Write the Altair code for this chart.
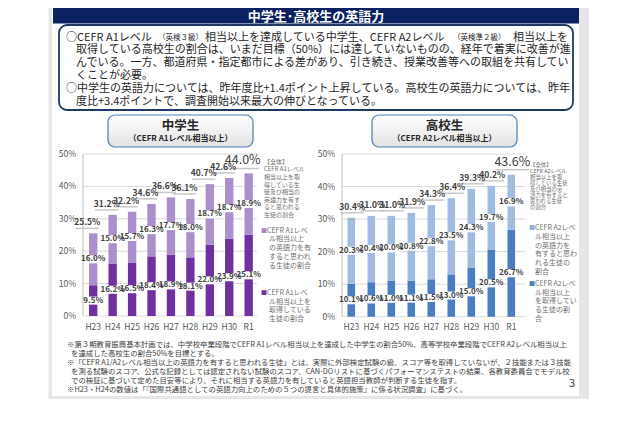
import altair as alt
import pandas as pd

FONT = "Noto Sans CJK JP"
OFF = 8  # page margin

# ---------------- data ----------------
years = ["H23", "H24", "H25", "H26", "H27", "H28", "H29", "H30", "R1"]
jh_achieved = [9.5, 16.2, 16.5, 18.4, 18.9, 18.1, 22.0, 23.9, 25.1]
jh_equiv = [16.0, 15.0, 15.7, 16.3, 17.7, 18.0, 18.7, 18.7, 18.9]
jh_total = [25.5, 31.2, 32.2, 34.6, 36.6, 36.1, 40.7, 42.6, 44.0]
hs_achieved = [10.1, 10.6, 11.0, 11.1, 11.5, 13.0, 15.0, 20.5, 26.7]
hs_equiv = [20.3, 20.4, 20.0, 20.8, 22.8, 23.5, 24.3, 19.7, 16.9]
hs_total = [30.4, 31.0, 31.0, 31.9, 34.3, 36.4, 39.3, 40.2, 43.6]
y_ticks = [0, 10, 20, 30, 40, 50]
y_tick_labels = ["0%", "10%", "20%", "30%", "40%", "50%"]

title = "中学生･高校生の英語力"
intro_line1 = ["○CEFR A1レベル", "（英検３級）", "相当以上を達成している中学生、CEFR A2レベル", "（英検準２級）", "相当以上を"]
intro_lines = [
    "取得している高校生の割合は、いまだ目標（50%）には達していないものの、経年で着実に改善が進",
    "んでいる。一方、都道府県・指定都市による差があり、引き続き、授業改善等への取組を共有してい",
    "くことが必要。",
    "○中学生の英語力については、昨年度比+1.4ポイント上昇している。高校生の英語力については、昨年",
    "度比+3.4ポイントで、調査開始以来最大の伸びとなっている。",
]
footnotes = [
    "※第３期教育振興基本計画では、中学校卒業段階でCEFR A1レベル相当以上を達成した中学生の割合50%、高等学校卒業段階でCEFR A2レベル相当以上",
    "を達成した高校生の割合50%を目標とする。",
    "※「CEFR A1/A2レベル相当以上の英語力を有すると思われる生徒」とは、実際に外部検定試験の級、スコア等を取得していないが、２技能または３技能",
    "を測る試験のスコア、公式な記録としては認定されない試験のスコア、CAN-DOリストに基づくパフォーマンステストの結果、各教育委員会でモデル校",
    "での検証に基づいて定めた目安等により、それに相当する英語力を有していると英語担当教師が判断する生徒を指す。",
    "※H23・H24の数値は「『国際共通語としての英語力向上のための５つの提言と具体的施策』に係る状況調査」に基づく。",
]
jh_title = ["中学生", "（CEFR A1レベル相当以上）"]
hs_title = ["高校生", "（CEFR A2レベル相当以上）"]
jh_leg1 = ["【全体】", "CEFR A1レベル", "相当以上を取", "得している生", "徒及び相当の", "英語力を有す", "ると思われる", "生徒の割合"]
jh_leg2 = ["CEFR A1レベ", "ル相当以上", "の英語力を有", "すると思われ", "る生徒の割合"]
jh_leg3 = ["CEFR A1レベ", "ル相当以上を", "取得している", "生徒の割合"]
hs_leg1 = ["【全体】", "CEFR A2レベル", "相当以上を取", "得している生徒", "及び相当の英", "語力を有すると", "思われる生徒", "の割合"]
hs_leg2 = ["CEFR A2レベ", "ル相当以上", "の英語力を", "有すると思わ", "れる生徒の", "割合"]
hs_leg3 = ["CEFR A2レベ", "ル相当以上", "を取得してい", "る生徒の割", "合"]
page_no = "3"

# ---------------- helpers ----------------
one = pd.DataFrame({"k": [0]})


def P(v):
    return v - OFF


def box(x1, y1, x2, y2, **kw):
    return alt.Chart(one).mark_rect(**kw).encode(
        x=alt.value(P(x1)), x2=alt.value(P(x2)), y=alt.value(P(y1)), y2=alt.value(P(y2))
    )


def label(text, x, y, size, align="left", color="#262626", weight="normal"):
    return alt.Chart(one).mark_text(
        text=text, font=FONT, fontSize=size, align=align, baseline="middle",
        color=color, fontWeight=weight
    ).encode(x=alt.value(P(x)), y=alt.value(P(y)))


def block(lines, x, y0, lh, size, color="#262626", align="left"):
    df = pd.DataFrame({"t": lines, "i": list(range(len(lines)))})
    return alt.Chart(df).transform_calculate(
        py=f"{P(y0)} + datum.i * {lh}"
    ).mark_text(font=FONT, fontSize=size, align=align, baseline="middle", color=color).encode(
        x=alt.value(P(x)), y=alt.Y("py:Q", scale=None, axis=None), text="t:N"
    )


tick_df = pd.DataFrame({"v": y_ticks, "lab": y_tick_labels})


def panel(ach, eq, tot, xr, yr, pin, c_solid, c_hatch, gx0, gx1, tdx, tdy):
    df = pd.DataFrame({"year": years, "a": ach, "e": eq, "t": tot})
    df["z"] = 0.0
    df["ma"] = df["a"] / 2
    df["me"] = df["a"] + (df["t"] - df["a"]) / 2
    df["la"] = [f"{v:.1f}%" for v in ach]
    df["le"] = [f"{v:.1f}%" for v in eq]
    df["lt"] = [f"{v:.1f}%" for v in tot]
    xs = alt.Scale(domain=years, range=[P(xr[0]), P(xr[1])], paddingInner=pin, paddingOuter=pin / 2)
    ys = alt.Scale(domain=[0, 50], range=[P(yr[0]), P(yr[1])], nice=False, zero=False)
    X = alt.X("year:N", scale=xs, axis=None, sort=years)
    base = alt.Chart(df)
    layers = []
    layers.append(alt.Chart(tick_df).mark_rule(color="#d9d9d9", strokeWidth=1).encode(
        y=alt.Y("v:Q", scale=ys, axis=None), x=alt.value(P(gx0)), x2=alt.value(P(gx1))))
    layers.append(alt.Chart(one).transform_calculate(top="50", bot="0").mark_rule(
        color="#bfbfbf", strokeWidth=1).encode(
        y=alt.Y("top:Q", scale=ys, axis=None), y2="bot:Q", x=alt.value(P(gx0))))
    layers.append(alt.Chart(tick_df).mark_text(
        font=FONT, fontSize=8.5, align="right", baseline="middle", color="#595959").encode(
        y=alt.Y("v:Q", scale=ys, axis=None), x=alt.value(P(gx0 - 7)), text="lab:N"))
    layers.append(base.mark_text(
        font=FONT, fontSize=8.5, baseline="middle", color="#595959").encode(
        x=X, y=alt.value(P(327)), text="year:N"))
    layers.append(base.mark_bar(color=c_solid).encode(
        x=X, y=alt.Y("a:Q", scale=ys, axis=None), y2="z:Q"))
    layers.append(base.mark_bar(color=c_hatch).encode(
        x=X, y=alt.Y("t:Q", scale=ys, axis=None), y2="a:Q"))
    # white label backgrounds (data-label fill)
    for fld in ["ma", "me"]:
        layers.append(base.mark_tick(color="#ffffff", thickness=8, size=17, opacity=1).encode(
            x=X, y=alt.Y(f"{fld}:Q", scale=ys, axis=None)))
    layers.append(base.mark_text(
        font=FONT, fontSize=8, fontWeight="bold", baseline="middle", color="#404040").encode(
        x=X, y=alt.Y("ma:Q", scale=ys, axis=None), text="la:N"))
    layers.append(base.mark_text(
        font=FONT, fontSize=8, fontWeight="bold", baseline="middle", color="#404040").encode(
        x=X, y=alt.Y("me:Q", scale=ys, axis=None), text="le:N"))
    layers.append(base.mark_tick(
        color="#b0b0b0", thickness=1.5, xOffset=tdx, yOffset=tdy + 6).encode(
        x=X, y=alt.Y("t:Q", scale=ys, axis=None),
        size=alt.condition("datum.year == 'R1'", alt.value(33), alt.value(23))))
    layers.append(base.transform_filter("datum.year != 'R1'").mark_text(
        font=FONT, fontSize=8.5, fontWeight="bold", baseline="middle", color="#404040",
        dx=tdx, dy=tdy).encode(
        x=X, y=alt.Y("t:Q", scale=ys, axis=None), text="lt:N"))
    layers.append(base.transform_filter("datum.year == 'R1'").mark_text(
        font=FONT, fontSize=12.5, fontWeight="normal", baseline="middle", color="#404040",
        dx=tdx, dy=tdy - 2).encode(
        x=X, y=alt.Y("t:Q", scale=ys, axis=None), text="lt:N"))
    return layers


# ---------------- layout ----------------
layers = []
# slide frame
layers.append(box(48.5, 8, 589, 399, fill="#e6e6e6"))
layers.append(box(52, 8, 579, 396, fill="#ffffff"))
# title banner
layers.append(box(53, 8, 579, 23.5, fill="#0b2160"))
layers.append(label(title, 316, 17, 13, align="center", color="#ffffff", weight="bold"))
# intro text box
layers.append(box(59, 25, 573, 110, fill="#ffffff", stroke="#1f3864", strokeWidth=1.8, cornerRadius=8))
seg_x = [66, 158, 205, 453, 513]
seg_size = [11, 7.5, 11, 7.5, 11]
for s, sx, ss in zip(intro_line1, seg_x, seg_size):
    layers.append(label(s, sx, 37.5, ss))
layers.append(block(intro_lines[0:3], 76, 50.3, 12.8, 11))
layers.append(label(intro_lines[3], 66, 88.7, 11))
layers.append(label(intro_lines[4], 76, 101.5, 11))

# subtitle boxes
grad = alt.LinearGradient(gradient="linear", stops=[
    alt.GradientStop(color="#ffffff", offset=0), alt.GradientStop(color="#e2e2e2", offset=1)],
    x1=0, x2=0, y1=0, y2=1)
for (bx0, bx1), t in [((108, 253), jh_title), ((372, 517), hs_title)]:
    layers.append(box(bx0, 115, bx1, 147, fill=grad, stroke="#4a7ebb", strokeWidth=1.2, cornerRadius=7))
    layers.append(label(t[0], (bx0 + bx1) / 2, 125.5, 12.5, align="center", weight="bold"))
    layers.append(label(t[1], (bx0 + bx1) / 2, 139, 8, align="center", weight="bold"))

# bar panels
layers += panel(jh_achieved, jh_equiv, jh_total, (83.5, 258.4), (316, 154), 0.57,
                "#7030a0", "#ab8fcb", 83, 257, -6, -11)
layers += panel(hs_achieved, hs_equiv, hs_total, (341.3, 521.3), (316.7, 154), 0.62,
                "#4a7ec2", "#a0bde1", 342, 525, 1, -11)

# legends
LG = "#6f6f6f"
layers.append(block(jh_leg1, 264, 161.7, 7.6, 6, LG))
layers.append(label("■", 261, 230.7, 6, color="#a585c8"))
layers.append(label(jh_leg2[0], 267, 230.7, 7, color=LG))
layers.append(block(jh_leg2[1:], 269, 239.4, 8.7, 7, LG))
layers.append(label("■", 261, 292.7, 6, color="#7030a0"))
layers.append(label(jh_leg3[0], 267, 292.7, 7, color=LG))
layers.append(block(jh_leg3[1:], 269, 301.5, 8.8, 7, LG))

layers.append(block(hs_leg1, 530, 165, 6.0, 5.4, LG))
layers.append(label("■", 529, 228.3, 6, color="#8fb0dc"))
layers.append(label(hs_leg2[0], 535, 228.3, 7, color=LG))
layers.append(block(hs_leg2[1:], 535, 237, 8.7, 7, LG))
layers.append(label("■", 529, 284, 6, color="#4a7ec2"))
layers.append(label(hs_leg3[0], 535, 284, 7, color=LG))
layers.append(block(hs_leg3[1:], 535, 292.7, 8.6, 7, LG))

# footnotes
fx = [67, 71, 67, 71, 71, 67]
for i, (t, x0) in enumerate(zip(footnotes, fx)):
    layers.append(label(t, x0, 345 + i * 9, 7.4, color="#404040"))
layers.append(label(page_no, 572, 384, 11, align="center", color="#404040"))

chart = alt.layer(*layers).resolve_scale(x="independent", y="independent").properties(
    width=624, height=410, autosize=alt.AutoSizeParams(type="none"), padding=0
).configure_view(strokeWidth=0)

chart.save("out.html", embed_options={"renderer": "svg", "actions": False})
